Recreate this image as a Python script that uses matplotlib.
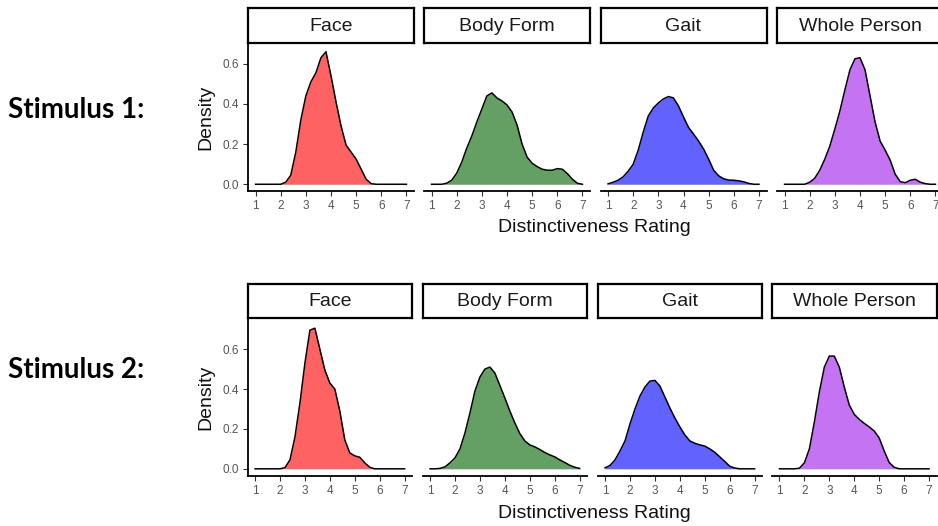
import numpy as np
import matplotlib.pyplot as plt

plt.rcParams['font.family'] = ['Liberation Sans', 'DejaVu Sans']

# rating grid (x) and density
rating = np.round(np.arange(1.0, 7.01, 0.2), 1)
conditions = ["Face", "Body Form", "Gait", "Whole Person"]
fill_colors = ["#FF6262", "#64A064", "#6262FF", "#C474F2"]

s1_face = [0, 0, 0, 0, 0, 0, 0.01, 0.045, 0.16, 0.32, 0.44, 0.51, 0.555, 0.63, 0.66, 0.54,
           0.41, 0.29, 0.195, 0.16, 0.125, 0.075, 0.025, 0.003, 0, 0, 0, 0, 0, 0, 0]
s1_body = [0, 0, 0, 0.005, 0.02, 0.055, 0.11, 0.18, 0.24, 0.31, 0.375, 0.44, 0.455, 0.43, 0.415, 0.395,
           0.36, 0.295, 0.2, 0.135, 0.105, 0.088, 0.075, 0.07, 0.07, 0.078, 0.075, 0.053, 0.025, 0.005, 0]
s1_gait = [0.002, 0.01, 0.02, 0.037, 0.065, 0.1, 0.17, 0.26, 0.34, 0.38, 0.405, 0.425, 0.437, 0.43, 0.39, 0.335,
           0.283, 0.25, 0.215, 0.175, 0.125, 0.07, 0.042, 0.027, 0.021, 0.02, 0.017, 0.012, 0.004, 0, 0]
s1_whole = [0, 0, 0, 0, 0, 0.01, 0.03, 0.07, 0.125, 0.19, 0.275, 0.365, 0.47, 0.57, 0.625, 0.63,
            0.57, 0.44, 0.31, 0.215, 0.17, 0.12, 0.05, 0.013, 0.008, 0.02, 0.025, 0.01, 0.003, 0, 0]

s2_face = [0, 0, 0, 0, 0, 0, 0.006, 0.045, 0.16, 0.33, 0.53, 0.695, 0.705, 0.6, 0.495, 0.43,
           0.4, 0.29, 0.145, 0.08, 0.065, 0.058, 0.03, 0.008, 0, 0, 0, 0, 0, 0, 0]
s2_body = [0, 0, 0.002, 0.01, 0.03, 0.055, 0.1, 0.18, 0.28, 0.39, 0.46, 0.5, 0.51, 0.48, 0.418, 0.355,
           0.29, 0.23, 0.177, 0.14, 0.12, 0.11, 0.097, 0.082, 0.07, 0.06, 0.045, 0.032, 0.018, 0.008, 0.002]
s2_gait = [0.005, 0.017, 0.045, 0.09, 0.14, 0.225, 0.3, 0.365, 0.41, 0.44, 0.443, 0.415, 0.36, 0.305, 0.255, 0.21,
           0.17, 0.14, 0.128, 0.12, 0.114, 0.1, 0.083, 0.06, 0.037, 0.013, 0.004, 0, 0, 0, 0]
s2_whole = [0, 0, 0, 0, 0.003, 0.03, 0.1, 0.235, 0.385, 0.51, 0.565, 0.565, 0.51, 0.41, 0.32, 0.273,
            0.248, 0.228, 0.21, 0.19, 0.155, 0.09, 0.032, 0.008, 0, 0, 0, 0, 0, 0, 0]

W, H = 938, 526

# layout of the two rows, in pixels
rows = [
    dict(label="Stimulus 1:", label_y=110, series=[s1_face, s1_body, s1_gait, s1_whole],
         lefts=[248, 424, 600.5, 777], width=166, strip_top=8, top=43, bottom=191,
         ylim=(-0.0335, 0.7035), xtitle_y=228),
    dict(label="Stimulus 2:", label_y=370, series=[s2_face, s2_body, s2_gait, s2_whole],
         lefts=[247.6, 422.6, 597.6, 772], width=164.5, strip_top=284, top=318, bottom=476,
         ylim=(-0.036, 0.756), xtitle_y=514),
]

fig = plt.figure(figsize=(W / 100, H / 100), dpi=100)

for row in rows:
    for i, (name, vals) in enumerate(zip(conditions, row["series"])):
        left = row["lefts"][i]
        ax = fig.add_axes([left / W, 1 - row["bottom"] / H, row["width"] / W,
                           (row["bottom"] - row["top"]) / H])
        ax.fill_between(rating, vals, 0, color=fill_colors[i], lw=0)
        ax.plot(rating, vals, color="black", lw=1.1)
        ax.set_xlim(0.7, 7.3)
        ax.set_ylim(*row["ylim"])
        ax.set_xticks(range(1, 8))
        ax.set_yticks([0, 0.2, 0.4, 0.6])
        ax.set_yticklabels(["0.0", "0.2", "0.4", "0.6"])
        for s in ["top", "right"]:
            ax.spines[s].set_visible(False)
        ax.spines["bottom"].set_linewidth(1.3)
        ax.spines["left"].set_linewidth(1.3)
        ax.tick_params(length=3.5, width=0.8, color="#333333", labelsize=8.5,
                       labelcolor="#555555", pad=3)
        if i > 0:
            ax.spines["left"].set_visible(False)
            ax.tick_params(axis="y", left=False, labelleft=False)
        ax.patch.set_alpha(0)

        # facet strip
        sax = fig.add_axes([left / W, 1 - row["top"] / H, row["width"] / W,
                            (row["top"] - row["strip_top"]) / H])
        sax.set_xticks([])
        sax.set_yticks([])
        for s in sax.spines.values():
            s.set_linewidth(1.6)
        sax.text(0.5, 0.48, name, ha="center", va="center", fontsize=14,
                 color="#1A1A1A", transform=sax.transAxes)

    mid = (row["top"] + row["bottom"]) / 2
    fig.text(206 / W, 1 - mid / H, "Density", rotation=90, ha="center", va="center",
             fontsize=14, color="#111111")
    fig.text(594 / W, 1 - row["xtitle_y"] / H, "Distinctiveness Rating", ha="center",
             va="center", fontsize=14, color="#111111")
    fig.text(8 / W, 1 - row["label_y"] / H, row["label"], ha="left", va="center",
             fontsize=20, fontweight="bold", family=["Lato", "DejaVu Sans"])

fig.savefig("out.png", dpi=100)
